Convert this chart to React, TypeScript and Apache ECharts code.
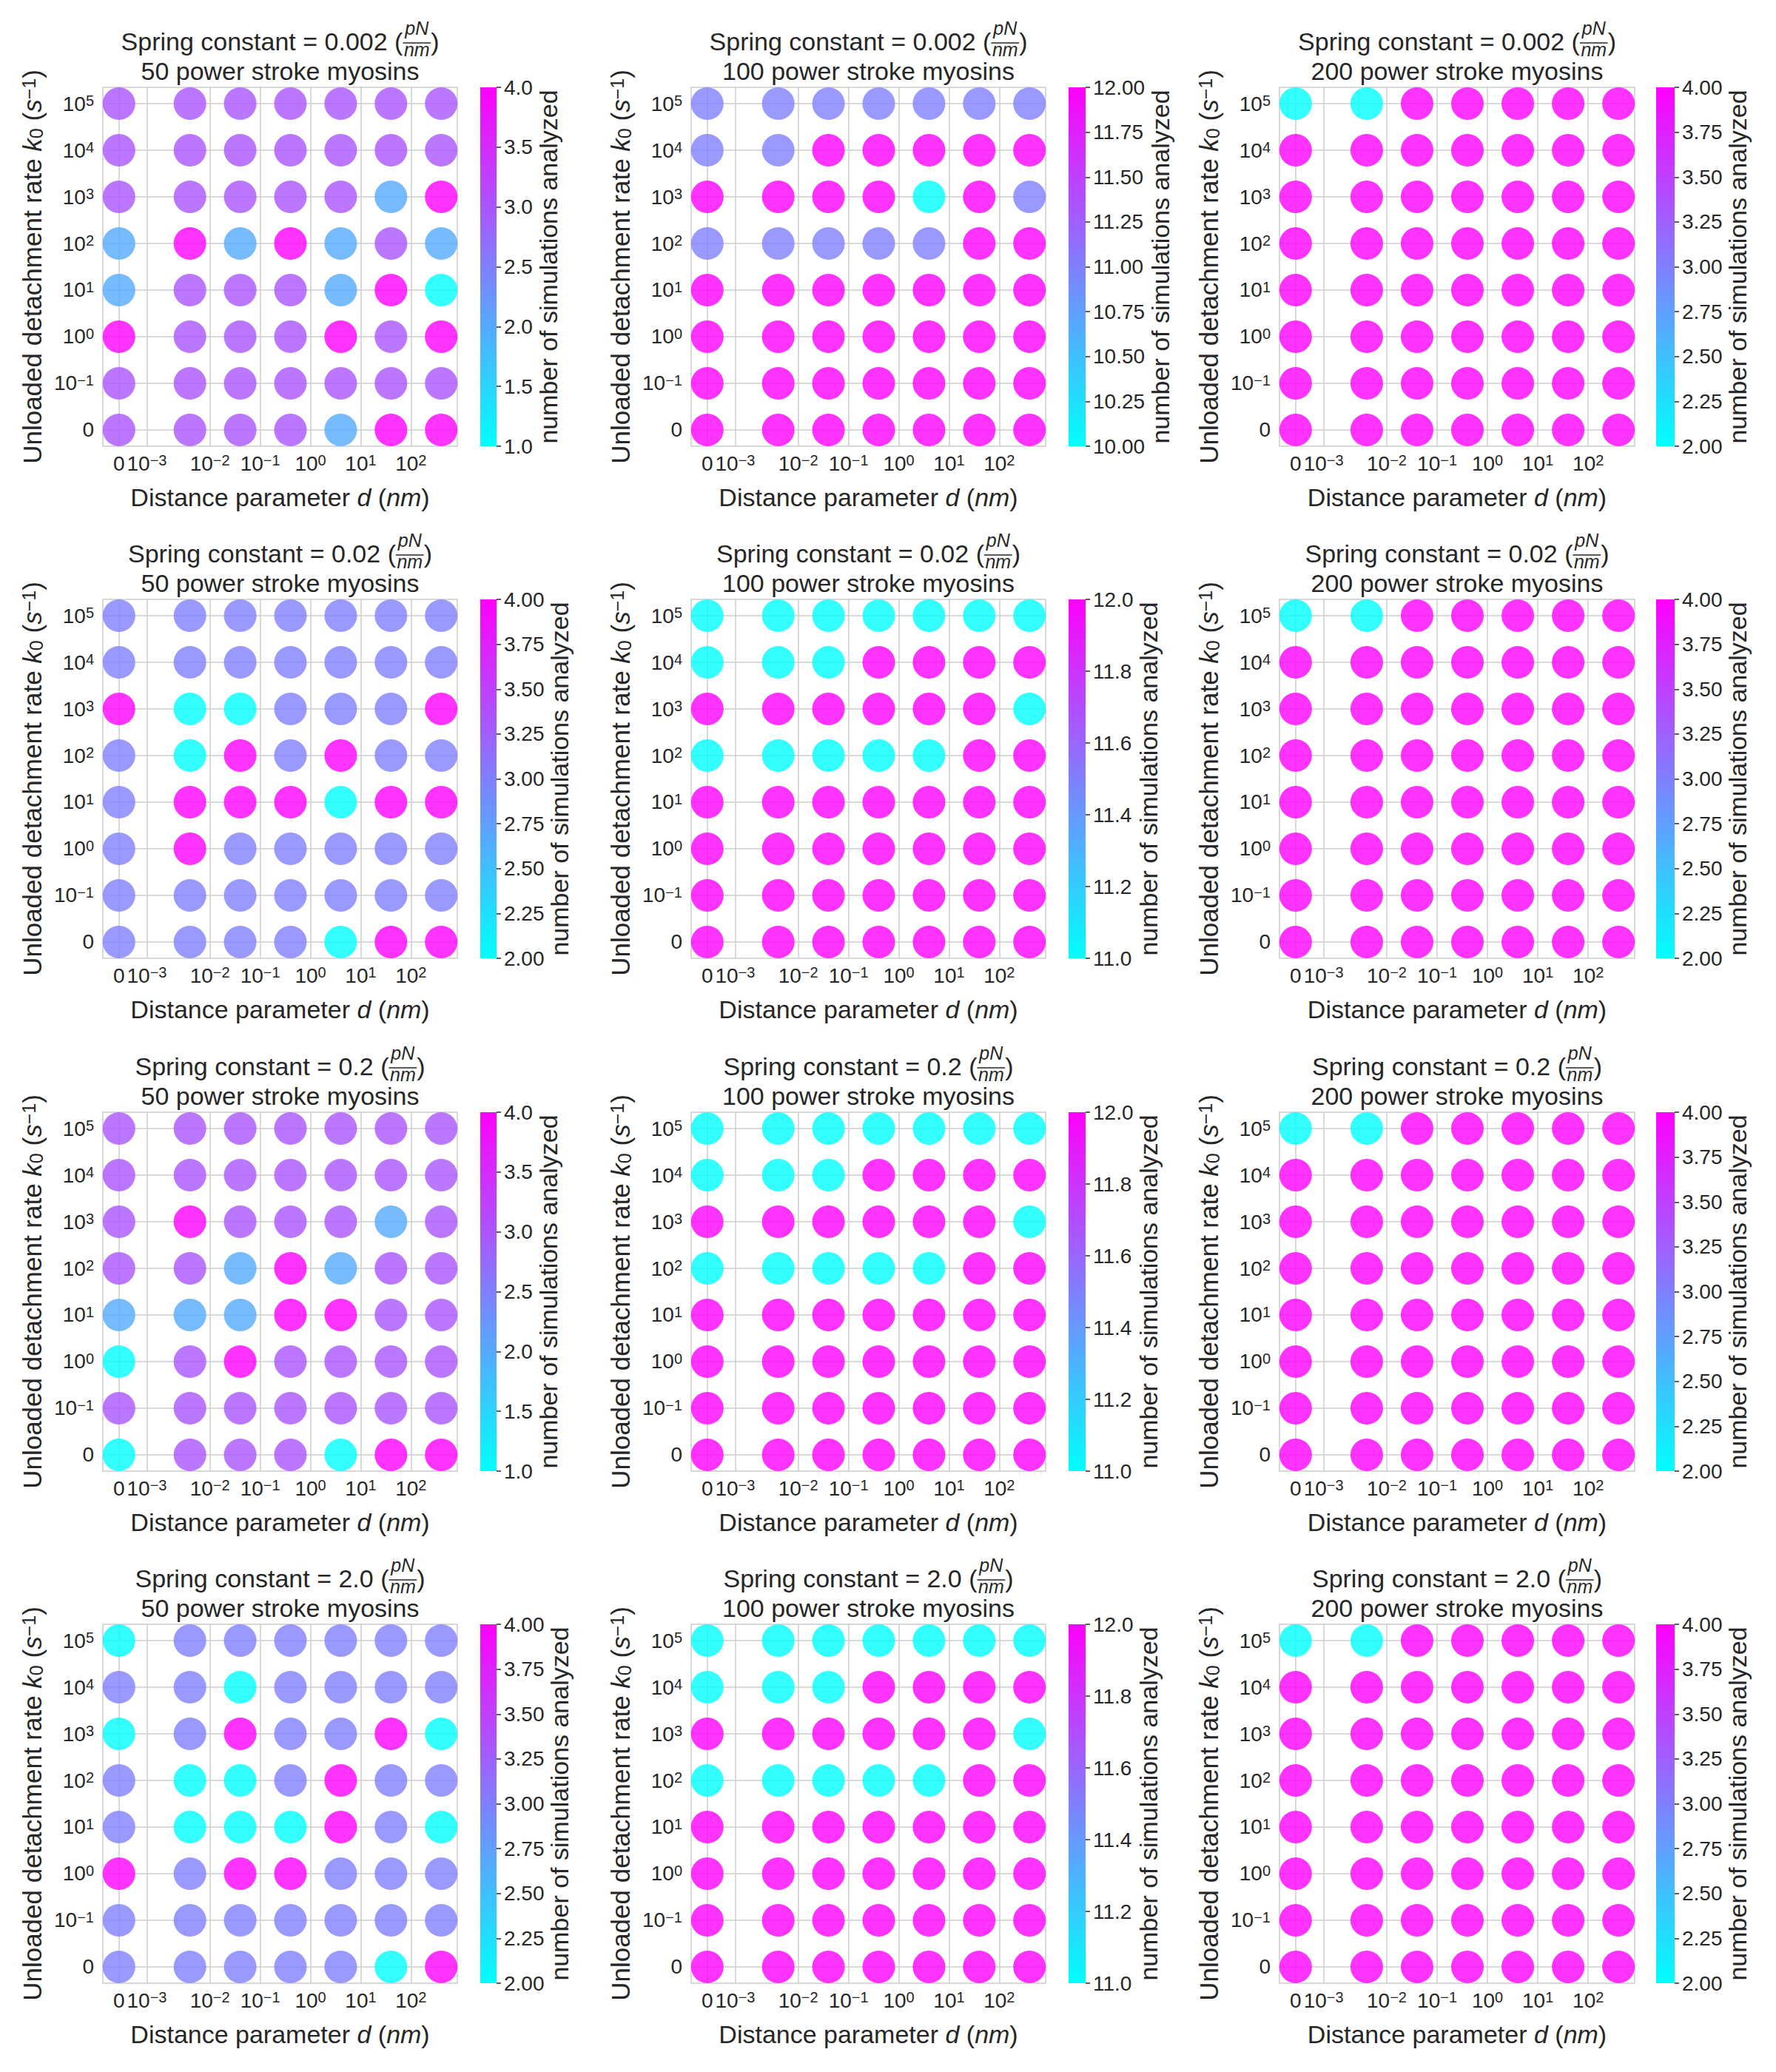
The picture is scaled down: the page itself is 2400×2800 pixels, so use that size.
import React, { useEffect, useRef } from 'react';
import * as echarts from 'echarts';

// ---------------- data ----------------
const springConstants = ['0.002', '0.02', '0.2', '2.0'];
const myosinCounts = [50, 100, 200];

// distance parameter d (nm) of each column of dots
const dValues = [0, 0.004, 0.04, 0.4, 4, 40, 400];
// unloaded detachment rate k0 (1/s) of each row, top row first
const k0Rows = [100000, 10000, 1000, 100, 10, 1, 0.1, 0];

const dTickValues = [0, 0.001, 0.01, 0.1, 1, 10, 100];
const k0TickValues = [0, 0.1, 1, 10, 100, 1000, 10000, 100000];

// number of simulations analyzed; rows follow k0Rows, columns follow dValues
const sims_k0002_m50 = [
  [3, 3, 3, 3, 3, 3, 3],
  [3, 3, 3, 3, 3, 3, 3],
  [3, 3, 3, 3, 3, 2, 4],
  [2, 4, 2, 4, 2, 3, 2],
  [2, 3, 3, 3, 2, 4, 1],
  [4, 3, 3, 3, 4, 3, 4],
  [3, 3, 3, 3, 3, 3, 3],
  [3, 3, 3, 3, 2, 4, 4],
];
const sims_k0002_m100 = [
  [11, 11, 11, 11, 11, 11, 11],
  [11, 11, 12, 12, 12, 12, 12],
  [12, 12, 12, 12, 10, 12, 11],
  [11, 11, 11, 11, 11, 12, 12],
  [12, 12, 12, 12, 12, 12, 12],
  [12, 12, 12, 12, 12, 12, 12],
  [12, 12, 12, 12, 12, 12, 12],
  [12, 12, 12, 12, 12, 12, 12],
];
const sims_k0002_m200 = [
  [2, 2, 4, 4, 4, 4, 4],
  [4, 4, 4, 4, 4, 4, 4],
  [4, 4, 4, 4, 4, 4, 4],
  [4, 4, 4, 4, 4, 4, 4],
  [4, 4, 4, 4, 4, 4, 4],
  [4, 4, 4, 4, 4, 4, 4],
  [4, 4, 4, 4, 4, 4, 4],
  [4, 4, 4, 4, 4, 4, 4],
];
const sims_k002_m50 = [
  [3, 3, 3, 3, 3, 3, 3],
  [3, 3, 3, 3, 3, 3, 3],
  [4, 2, 2, 3, 3, 3, 4],
  [3, 2, 4, 3, 4, 3, 3],
  [3, 4, 4, 4, 2, 4, 4],
  [3, 4, 3, 3, 3, 3, 3],
  [3, 3, 3, 3, 3, 3, 3],
  [3, 3, 3, 3, 2, 4, 4],
];
const sims_k002_m100 = [
  [11, 11, 11, 11, 11, 11, 11],
  [11, 11, 11, 12, 12, 12, 12],
  [12, 12, 12, 12, 12, 12, 11],
  [11, 11, 11, 11, 11, 12, 12],
  [12, 12, 12, 12, 12, 12, 12],
  [12, 12, 12, 12, 12, 12, 12],
  [12, 12, 12, 12, 12, 12, 12],
  [12, 12, 12, 12, 12, 12, 12],
];
const sims_k002_m200 = [
  [2, 2, 4, 4, 4, 4, 4],
  [4, 4, 4, 4, 4, 4, 4],
  [4, 4, 4, 4, 4, 4, 4],
  [4, 4, 4, 4, 4, 4, 4],
  [4, 4, 4, 4, 4, 4, 4],
  [4, 4, 4, 4, 4, 4, 4],
  [4, 4, 4, 4, 4, 4, 4],
  [4, 4, 4, 4, 4, 4, 4],
];
const sims_k02_m50 = [
  [3, 3, 3, 3, 3, 3, 3],
  [3, 3, 3, 3, 3, 3, 3],
  [3, 4, 3, 3, 3, 2, 3],
  [3, 3, 2, 4, 2, 3, 3],
  [2, 2, 2, 4, 4, 3, 3],
  [1, 3, 4, 3, 3, 3, 3],
  [3, 3, 3, 3, 3, 3, 3],
  [1, 3, 3, 3, 1, 4, 4],
];
const sims_k02_m100 = [
  [11, 11, 11, 11, 11, 11, 11],
  [11, 11, 11, 12, 12, 12, 12],
  [12, 12, 12, 12, 12, 12, 11],
  [11, 11, 11, 11, 11, 12, 12],
  [12, 12, 12, 12, 12, 12, 12],
  [12, 12, 12, 12, 12, 12, 12],
  [12, 12, 12, 12, 12, 12, 12],
  [12, 12, 12, 12, 12, 12, 12],
];
const sims_k02_m200 = [
  [2, 2, 4, 4, 4, 4, 4],
  [4, 4, 4, 4, 4, 4, 4],
  [4, 4, 4, 4, 4, 4, 4],
  [4, 4, 4, 4, 4, 4, 4],
  [4, 4, 4, 4, 4, 4, 4],
  [4, 4, 4, 4, 4, 4, 4],
  [4, 4, 4, 4, 4, 4, 4],
  [4, 4, 4, 4, 4, 4, 4],
];
const sims_k2_m50 = [
  [2, 3, 3, 3, 3, 3, 3],
  [3, 3, 2, 3, 3, 3, 3],
  [2, 3, 4, 3, 3, 4, 2],
  [3, 2, 2, 3, 4, 3, 3],
  [3, 2, 2, 2, 4, 3, 2],
  [4, 3, 4, 4, 3, 3, 3],
  [3, 3, 3, 3, 3, 3, 3],
  [3, 3, 3, 3, 3, 2, 4],
];
const sims_k2_m100 = [
  [11, 11, 11, 11, 11, 11, 11],
  [11, 11, 11, 12, 12, 12, 12],
  [12, 12, 12, 12, 12, 12, 11],
  [11, 11, 11, 11, 11, 12, 12],
  [12, 12, 12, 12, 12, 12, 12],
  [12, 12, 12, 12, 12, 12, 12],
  [12, 12, 12, 12, 12, 12, 12],
  [12, 12, 12, 12, 12, 12, 12],
];
const sims_k2_m200 = [
  [2, 2, 4, 4, 4, 4, 4],
  [4, 4, 4, 4, 4, 4, 4],
  [4, 4, 4, 4, 4, 4, 4],
  [4, 4, 4, 4, 4, 4, 4],
  [4, 4, 4, 4, 4, 4, 4],
  [4, 4, 4, 4, 4, 4, 4],
  [4, 4, 4, 4, 4, 4, 4],
  [4, 4, 4, 4, 4, 4, 4],
];

const panelCounts = [
  [sims_k0002_m50, sims_k0002_m100, sims_k0002_m200],
  [sims_k002_m50, sims_k002_m100, sims_k002_m200],
  [sims_k02_m50, sims_k02_m100, sims_k02_m200],
  [sims_k2_m50, sims_k2_m100, sims_k2_m200],
];
// colorbar tick steps
const cbarSteps = [
  [0.5, 0.25, 0.25],
  [0.25, 0.2, 0.25],
  [0.5, 0.2, 0.25],
  [0.25, 0.2, 0.25],
];

// ---------------- style / layout ----------------
const FONT = "'Liberation Sans', Arial, Helvetica, sans-serif";
const TEXT = '#262626';
const GRID_C = '#cccccc';
const PAGE_W = 2400;
const PAGE_H = 2800;
const LABEL_FS = 34;
const YLABEL_FS = 35;
const TICK_FS = 28;
const SUP_FS = 20;

const colPlotLeft = [139, 934, 1729];
const colPlotRight = [618, 1413, 2209];
const colCbarLeft = [649, 1444, 2238];
const colCbarRight = [671, 1467, 2263];
const rowPlotTop = [118, 810, 1503, 2195];
const PLOT_H = 485;

// symmetric-log scales (matplotlib symlog, base 10)
const X_LINTHRESH = 0.002;
const X_LINSCALE = 1 / (1 - 1 / 10);
const symlogX = (d: number) =>
  d <= X_LINTHRESH ? (d / X_LINTHRESH) * X_LINSCALE : X_LINSCALE + Math.log10(d / X_LINTHRESH);
const Y_LINTHRESH = 0.1;
const symlogY = (k: number) =>
  k <= Y_LINTHRESH ? k / Y_LINTHRESH : 1 + Math.log10(k / Y_LINTHRESH);

const expOf = (v: number) => (v === 0 ? null : Math.round(Math.log10(v)));
const powLabel = (e: number | null) =>
  e === null ? '{z|0}' : `{b|10}{s|${e < 0 ? '\u2212' + -e : e}}`;

const tickRich = {
  z: { fontSize: TICK_FS, lineHeight: TICK_FS, fontFamily: FONT, color: TEXT },
  b: { fontSize: TICK_FS, lineHeight: TICK_FS, padding: [11, 0, 0, 0], verticalAlign: 'bottom', fontFamily: FONT, color: TEXT },
  s: { fontSize: SUP_FS, lineHeight: SUP_FS, verticalAlign: 'top', fontFamily: FONT, color: TEXT },
};

function makeMeasurer() {
  const ctx = document.createElement('canvas').getContext('2d')!;
  return (t: string, size: number, style = 'normal') => {
    ctx.font = `${style} ${size}px ${FONT}`;
    return ctx.measureText(t).width;
  };
}

function padExtent(vals: number[]) {
  const mn = Math.min(...vals);
  const mx = Math.max(...vals);
  const p = (mx - mn) * 0.05;
  return [mn - p, mx + p];
}

function buildOption() {
  const measure = makeMeasurer();
  const grid: any[] = [];
  const xAxis: any[] = [];
  const yAxis: any[] = [];
  const series: any[] = [];
  const visualMap: any[] = [];
  const graphic: any[] = [];

  const xPos = dValues.map(symlogX);
  const yPos = k0Rows.map(symlogY);
  const [xMin, xMax] = padExtent(xPos);
  const [yMin, yMax] = padExtent(yPos);
  const xTickPos = dTickValues.map(symlogX);
  const yTickPos = k0TickValues.map(symlogY);
  const xFmt = (v: number) => {
    const i = xTickPos.findIndex((t) => Math.abs(t - v) < 1e-6);
    return i < 0 ? '' : powLabel(expOf(dTickValues[i]));
  };
  const yFmt = (v: number) => {
    const i = yTickPos.findIndex((t) => Math.abs(t - v) < 1e-6);
    return i < 0 ? '' : powLabel(expOf(k0TickValues[i]));
  };

  springConstants.forEach((kc, r) => {
    myosinCounts.forEach((m, c) => {
      const counts = panelCounts[r][c];
      const flat = counts.flat();
      const vmin = Math.min(...flat);
      const vmax = Math.max(...flat);
      const step = cbarSteps[r][c];
      const dec = (String(step).split('.')[1] || '').length;
      const top = rowPlotTop[r];

      // ----- scatter panel -----
      const g = grid.length;
      grid.push({
        left: colPlotLeft[c],
        top,
        width: colPlotRight[c] - colPlotLeft[c],
        height: PLOT_H,
        show: true,
        borderColor: GRID_C,
        borderWidth: 1.5,
        containLabel: false,
        outerBoundsMode: 'none',
      });
      xAxis.push({
        type: 'value',
        gridIndex: g,
        min: xMin,
        max: xMax,
        axisLine: { show: false },
        axisTick: { show: false, customValues: xTickPos },
        axisLabel: { customValues: xTickPos, margin: 9, formatter: xFmt, rich: tickRich, color: TEXT, fontFamily: FONT, fontSize: TICK_FS },
        splitLine: { show: true, lineStyle: { color: GRID_C, width: 1.5 } },
        name: 'Distance parameter {i|d} ({i|nm})',
        nameLocation: 'middle',
        nameGap: 52,
        nameTextStyle: {
          fontSize: LABEL_FS, lineHeight: LABEL_FS, fontFamily: FONT, color: TEXT,
          rich: { i: { fontSize: LABEL_FS, lineHeight: LABEL_FS, fontStyle: 'italic', fontFamily: FONT, color: TEXT } },
        },
      });
      const nm = { fontSize: YLABEL_FS, lineHeight: YLABEL_FS, padding: [8, 0, 8, 0], fontFamily: FONT, color: TEXT };
      yAxis.push({
        type: 'value',
        gridIndex: g,
        min: yMin,
        max: yMax,
        axisLine: { show: false },
        axisTick: { show: false, customValues: yTickPos },
        axisLabel: { customValues: yTickPos, margin: 12, formatter: yFmt, rich: tickRich, color: TEXT, fontFamily: FONT, fontSize: TICK_FS },
        splitLine: { show: true, lineStyle: { color: GRID_C, width: 1.5 } },
        name: '{n|Unloaded detachment rate }{ni|k}{sub|0}{n| (}{ni|s}{sup|\u22121}{n|)}',
        nameLocation: 'middle',
        nameRotate: 90,
        nameGap: 57,
        nameTextStyle: {
          fontFamily: FONT, color: TEXT, fontSize: YLABEL_FS,
          rich: {
            n: nm,
            ni: { ...nm, fontStyle: 'italic' },
            sup: { fontSize: 25, lineHeight: 25, verticalAlign: 'top', fontFamily: FONT, color: TEXT },
            sub: { fontSize: 25, lineHeight: 25, verticalAlign: 'bottom', fontFamily: FONT, color: TEXT },
          },
        },
      });
      const data: number[][] = [];
      k0Rows.forEach((k, i) => {
        dValues.forEach((d, j) => {
          data.push([symlogX(d), symlogY(k), counts[i][j]]);
        });
      });
      const sIdx = series.length;
      series.push({
        type: 'scatter',
        xAxisIndex: g,
        yAxisIndex: g,
        symbol: 'circle',
        symbolSize: 44,
        data,
        encode: { x: 0, y: 1 },
        silent: true,
        z: 3,
      });
      visualMap.push({
        type: 'continuous',
        show: false,
        seriesIndex: sIdx,
        dimension: 2,
        min: vmin,
        max: vmax,
        inRange: { color: ['#00ffff', '#ff00ff'] },
      });

      // ----- colorbar -----
      const cg = grid.length;
      const labelW = Math.max(
        measure(vmin.toFixed(dec), TICK_FS),
        measure(vmax.toFixed(dec), TICK_FS)
      );
      grid.push({
        left: colCbarLeft[c],
        top,
        width: colCbarRight[c] - colCbarLeft[c],
        height: PLOT_H,
        show: false,
        containLabel: false,
        outerBoundsMode: 'none',
      });
      xAxis.push({ type: 'category', gridIndex: cg, data: [''], show: false });
      yAxis.push({
        type: 'value',
        gridIndex: cg,
        position: 'right',
        min: vmin,
        max: vmax,
        interval: step,
        axisLine: { show: false },
        axisTick: { show: true, length: 6, lineStyle: { color: TEXT, width: 1.5 } },
        axisLabel: {
          margin: 10, fontSize: TICK_FS, fontFamily: FONT, color: TEXT,
          formatter: (v: number) => v.toFixed(dec),
        },
        splitLine: { show: false },
        name: 'number of simulations analyzed',
        nameLocation: 'middle',
        nameRotate: 90,
        nameGap: 10 + labelW + 3,
        nameTextStyle: { fontSize: LABEL_FS, lineHeight: LABEL_FS, fontFamily: FONT, color: TEXT },
      });
      series.push({
        type: 'bar',
        xAxisIndex: cg,
        yAxisIndex: cg,
        stack: 'cbar' + cg,
        data: [vmin],
        barWidth: '100%',
        itemStyle: { color: 'rgba(0,0,0,0)' },
        silent: true,
      });
      series.push({
        type: 'bar',
        xAxisIndex: cg,
        yAxisIndex: cg,
        stack: 'cbar' + cg,
        data: [vmax - vmin],
        barWidth: '100%',
        itemStyle: {
          color: new echarts.graphic.LinearGradient(0, 0, 0, 1, [
            { offset: 0, color: '#ff00ff' },
            { offset: 1, color: '#00ffff' },
          ]),
        },
        silent: true,
      });

      // ----- title (two lines, with a stacked pN/nm fraction) -----
      const cx = (colPlotLeft[c] + colPlotRight[c]) / 2;
      const y1 = top - 62;
      const FR = 25;
      const part1 = `Spring constant = ${kc} (`;
      const w1 = measure(part1, LABEL_FS);
      const wF = Math.max(measure('pN', FR, 'italic'), measure('nm', FR, 'italic')) + 3;
      const wC = measure(')', LABEL_FS);
      const x0 = cx - (w1 + wF + wC) / 2;
      const tstyle = (text: string, size: number, align: string, italic = false) => ({
        text,
        fill: TEXT,
        fontSize: size,
        fontFamily: FONT,
        fontStyle: italic ? 'italic' : 'normal',
        align,
        textAlign: align,
        verticalAlign: 'middle',
        textVerticalAlign: 'middle',
      });
      graphic.push({ type: 'text', x: x0, y: y1, silent: true, style: tstyle(part1, LABEL_FS, 'left') });
      graphic.push({ type: 'text', x: x0 + w1 + wF / 2, y: y1 - 18, silent: true, style: tstyle('pN', FR, 'center', true) });
      graphic.push({
        type: 'line', silent: true,
        shape: { x1: x0 + w1, y1: y1 + 2, x2: x0 + w1 + wF, y2: y1 + 2 },
        style: { stroke: TEXT, lineWidth: 1.5 },
      });
      graphic.push({ type: 'text', x: x0 + w1 + wF / 2, y: y1 + 11, silent: true, style: tstyle('nm', FR, 'center', true) });
      graphic.push({ type: 'text', x: x0 + w1 + wF, y: y1, silent: true, style: tstyle(')', LABEL_FS, 'left') });
      graphic.push({
        type: 'text', x: cx, y: top - 22, silent: true,
        style: tstyle(`${m} power stroke myosins`, LABEL_FS, 'center'),
      });
    });
  });

  return {
    animation: false,
    backgroundColor: '#ffffff',
    textStyle: { fontFamily: FONT, color: TEXT },
    grid,
    xAxis,
    yAxis,
    series,
    visualMap,
    graphic,
  };
}

export default function App() {
  const ref = useRef<HTMLDivElement>(null);
  useEffect(() => {
    document.body.style.margin = '0';
    const chart = echarts.init(ref.current!, null, { renderer: 'svg' });
    chart.setOption(buildOption() as any);
    return () => chart.dispose();
  }, []);
  return <div ref={ref} style={{ width: PAGE_W, height: PAGE_H, background: '#ffffff' }} />;
}
